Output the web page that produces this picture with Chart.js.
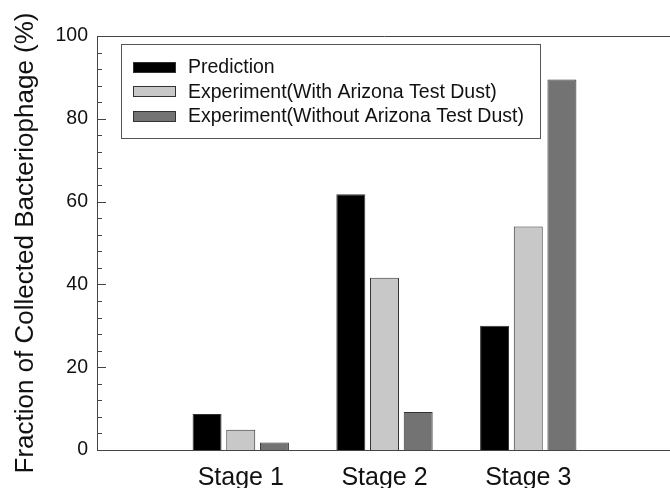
<!DOCTYPE html>
<html><head><meta charset="utf-8">
<script src="https://cdn.jsdelivr.net/npm/chart.js@4.4.0/dist/chart.umd.min.js"></script>
<style>
html,body{margin:0;padding:0;background:#fff;overflow:hidden;width:670px;height:488px}
#wrap{position:relative;width:690px;height:488px}
</style></head>
<body><div id="wrap"><canvas id="c"></canvas></div>
<script>
const categories = ['', 'Stage 1', 'Stage 2', 'Stage 3', ''];
const seriesNames = ['Prediction', 'Experiment(With Arizona Test Dust)', 'Experiment(Without Arizona Test Dust)'];
const prediction = [null, 8.7, 61.8, 30.0, null];
const withDust = [null, 4.9, 41.6, 54.0, null];
const withoutDust = [null, 1.8, 9.2, 89.5, null];
const seriesColors = ['#000000', '#c8c8c8', '#737373'];
const yMajorTicks = [0, 20, 40, 60, 80, 100];
const yMinorStep = 4;
const yTitle = 'Fraction of Collected Bacteriophage (%)';
const FONT = "'Liberation Sans', Arial, sans-serif";

const framePlugin = {
  id: 'frame',
  afterDraw(chart) {
    const ctx = chart.ctx, a = chart.chartArea, y = chart.scales.y;
    ctx.save();
    ctx.strokeStyle = '#444';
    ctx.lineWidth = 1;
    ctx.beginPath();
    ctx.moveTo(a.left, Math.round(a.top) + 0.5);
    ctx.lineTo(a.right, Math.round(a.top) + 0.5);
    for (let v = 0; v <= 100; v += yMinorStep) {
      const p = Math.round(y.getPixelForValue(v)) + 0.5;
      const len = yMajorTicks.includes(v) ? 9 : 5;
      ctx.moveTo(a.left, p);
      ctx.lineTo(a.left + len, p);
    }
    ctx.stroke();
    // legend box
    const bx = 121, by = 44, bw = 419, bh = 94;
    ctx.fillStyle = '#fff';
    ctx.fillRect(bx, by, bw, bh);
    ctx.strokeStyle = '#555';
    ctx.strokeRect(bx + 0.5, by + 0.5, bw, bh);
    const rows = [67, 91.5, 116];
    chart.data.datasets.forEach((ds, i) => {
      const cy = rows[i];
      ctx.fillStyle = ds.backgroundColor;
      ctx.fillRect(133, Math.round(cy - 5.5), 43, 11);
      ctx.strokeStyle = '#333';
      ctx.strokeRect(133.5, Math.round(cy - 5.5) + 0.5, 42, 10);
      ctx.fillStyle = '#111';
      ctx.font = '19.5px ' + FONT;
      ctx.textBaseline = 'middle';
      ctx.textAlign = 'left';
      ctx.fillText(ds.label, 188, cy + 1);
    });
    ctx.restore();
  }
};

new Chart(document.getElementById('c'), {
  type: 'bar',
  data: {
    labels: categories,
    datasets: [
      { label: seriesNames[0], data: prediction, backgroundColor: seriesColors[0] },
      { label: seriesNames[1], data: withDust, backgroundColor: seriesColors[1] },
      { label: seriesNames[2], data: withoutDust, backgroundColor: seriesColors[2] }
    ].map(d => Object.assign(d, { borderColor: '#333', borderWidth: 1, categoryPercentage: 0.703, barPercentage: 0.86 }))
  },
  options: {
    responsive: true,
    maintainAspectRatio: false,
    animation: false,
    layout: { padding: { top: 36, right: 18, left: 0, bottom: 0 } },
    plugins: { legend: { display: false }, tooltip: { enabled: false } },
    scales: {
      x: {
        type: 'category',
        offset: false,
        grid: { display: false, drawTicks: false },
        border: { display: true, color: '#444', width: 1 },
        ticks: { font: { size: 25, family: FONT }, color: '#111', padding: 13, autoSkip: false, maxRotation: 0 },
        afterFit(s) { s.height = 38; }
      },
      y: {
        min: 0, max: 100,
        grid: { display: false, drawTicks: false },
        border: { display: true, color: '#444', width: 1 },
        ticks: { stepSize: 20, padding: 9, font: { size: 19.5, family: FONT }, color: '#111' },
        title: { display: true, text: yTitle, font: { size: 26, family: FONT }, color: '#111', padding: { top: 10, bottom: 0 } },
        afterFit(s) { s.width = 97; }
      }
    }
  },
  plugins: [framePlugin]
});
</script>
</body></html>
